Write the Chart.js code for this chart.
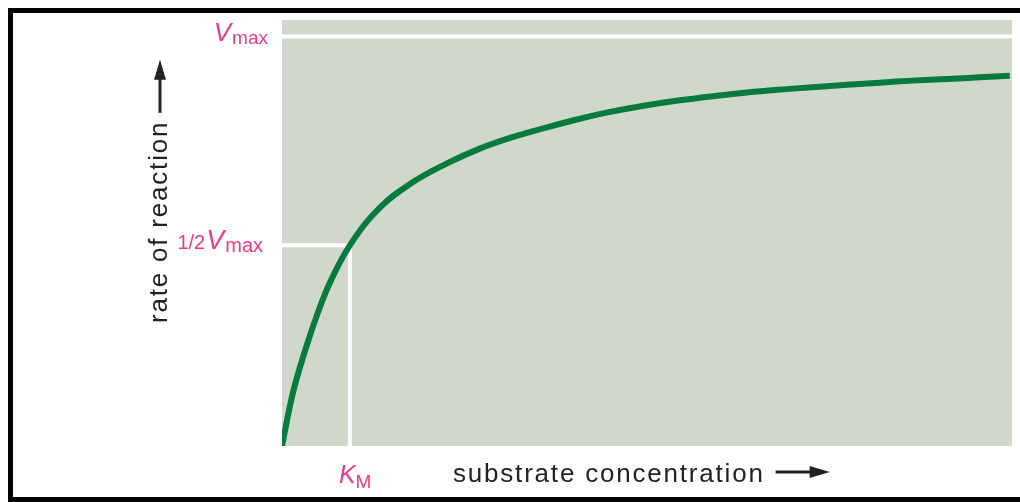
<!DOCTYPE html>
<html>
<head>
<meta charset="utf-8">
<script src="https://cdn.jsdelivr.net/npm/chart.js@4.4.1/dist/chart.umd.min.js"></script>
<style>
  html, body { margin: 0; padding: 0; background: #fff; }
  #wrap { width: 1020px; height: 502px; }
</style>
</head>
<body>
<div id="wrap"><canvas id="mmChart" width="1020" height="502"></canvas></div>
<script>
// substrate concentration (arbitrary units) and rate of reaction (% of Vmax)
const subConc = [0, 0.15, 0.32, 0.48, 0.66, 0.93, 1.34, 1.8, 2.26, 2.71, 3.16, 3.63, 4.08,
                 4.53, 5.0, 5.45, 5.9, 6.37, 6.82, 7.27, 7.74, 8.19, 8.64, 9.11, 9.56, 9.97];
const rate = [0, 13, 23.5, 32, 40, 49, 58.2, 64.5, 69.0, 72.6, 75.4, 77.8, 79.9,
              81.7, 83.2, 84.4, 85.4, 86.3, 87.0, 87.6, 88.2, 88.7, 89.2, 89.6, 90.0, 90.4];

const vMax = 100;
const halfVmax = 49;
const kM = 0.93;
const xRange = [0, 10];
const yRange = [0, 104];

const PINK = "#ec3a8c";
const INK = "#222222";
const PLOT_BG = "#cfd8cb";
const FONT = '"Liberation Sans", Arial, sans-serif';

const el = (id) => document.getElementById(id);

// draws runs of text (e.g. V + subscript) side by side, right or left aligned
const drawParts = (ctx, parts, x, y, align) => {
    let total = 0;
    parts.forEach((p) => {
        ctx.font = p.font;
        p.w = ctx.measureText(p.t).width + (p.gap || 0);
        total += p.w;
    });
    let cx = align === "right" ? x - total : x;
    parts.forEach((p) => {
        ctx.font = p.font;
        ctx.fillText(p.t, cx, y + (p.dy || 0));
        cx += p.w;
    });
};

const drawArrow = (ctx, x0, y0, len) => {
    // horizontal arrow pointing right in the current frame
    ctx.beginPath();
    ctx.moveTo(x0, y0);
    ctx.lineTo(x0 + len - 16, y0);
    ctx.lineWidth = 3;
    ctx.stroke();
    ctx.beginPath();
    ctx.moveTo(x0 + len, y0);
    ctx.lineTo(x0 + len - 20, y0 - 6);
    ctx.lineTo(x0 + len - 20, y0 + 6);
    ctx.closePath();
    ctx.fill();
};

const decor = {
    id: "decor",
    beforeDraw(chart) {
        const { ctx, chartArea: a } = chart;
        ctx.save();
        ctx.fillStyle = "#fff";
        ctx.fillRect(0, 0, chart.width, chart.height);
        ctx.fillStyle = PLOT_BG;
        ctx.fillRect(a.left, a.top, a.right - a.left, a.bottom - a.top);
        ctx.restore();
    },
    afterDraw(chart) {
        const { ctx, chartArea: a, scales } = chart;
        const yV = scales.y.getPixelForValue(vMax);
        const yH = scales.y.getPixelForValue(halfVmax);
        const xK = scales.x.getPixelForValue(kM);

        ctx.save();
        // frame
        ctx.strokeStyle = "#000";
        ctx.lineWidth = 5;
        ctx.beginPath();
        ctx.moveTo(1030, 10.5);
        ctx.lineTo(10.5, 10.5);
        ctx.lineTo(10.5, 499.5);
        ctx.lineTo(1030, 499.5);
        ctx.stroke();

        // pink labels
        ctx.fillStyle = PINK;
        ctx.textBaseline = "alphabetic";
        drawParts(ctx, [
            { t: "V", font: `italic 26px ${FONT}`, gap: 1 },
            { t: "max", font: `19px ${FONT}`, dy: 3 },
        ], a.left - 14, yV + 5, "right");
        drawParts(ctx, [
            { t: "1/2", font: `20px ${FONT}`, gap: 1 },
            { t: "V", font: `italic 27px ${FONT}`, gap: 1 },
            { t: "max", font: `20px ${FONT}`, dy: 3 },
        ], a.left - 19, yH + 4, "right");
        drawParts(ctx, [
            { t: "K", font: `italic 25px ${FONT}` },
            { t: "M", font: `19px ${FONT}`, dy: 5 },
        ], xK - 11, a.bottom + 37, "left");

        // axis titles with arrows
        ctx.fillStyle = INK;
        ctx.strokeStyle = INK;
        ctx.font = `26px ${FONT}`;
        ctx.letterSpacing = "1.8px";
        const xt = "substrate concentration";
        const xtX = a.left + 171;
        ctx.fillText(xt, xtX, a.bottom + 36);
        const xtW = ctx.measureText(xt).width;
        drawArrow(ctx, xtX + xtW + 11, a.bottom + 26, 54);

        const yt = "rate of reaction";
        ctx.save();
        ctx.translate(167, 323);
        ctx.rotate(-Math.PI / 2);
        ctx.fillText(yt, 0, 0);
        const ytW = ctx.measureText(yt).width;
        drawArrow(ctx, ytW + 8, -7, 53);
        ctx.restore();

        ctx.restore();
    },
};

const curvePts = subConc.map((x, i) => ({ x, y: rate[i] }));

new Chart(el("mmChart").getContext("2d"), {
    type: "line",
    data: {
        datasets: [
            {
                label: "rate",
                data: curvePts,
                borderColor: "#077a3e",
                borderWidth: 6,
                pointRadius: 0,
                tension: 0.4,
                order: 0,
            },
            {
                label: "Vmax",
                data: [{ x: xRange[0], y: vMax }, { x: xRange[1], y: vMax }],
                borderColor: "#ffffff",
                borderWidth: 4,
                pointRadius: 0,
                order: 1,
            },
            {
                label: "Km",
                data: [{ x: xRange[0], y: halfVmax }, { x: kM, y: halfVmax }, { x: kM, y: yRange[0] }],
                borderColor: "#ffffff",
                borderWidth: 4,
                pointRadius: 0,
                order: 1,
            },
        ],
    },
    options: {
        responsive: false,
        animation: false,
        layout: { padding: { left: 282, right: 8, top: 20, bottom: 56 } },
        scales: {
            x: { type: "linear", min: xRange[0], max: xRange[1], display: false },
            y: { type: "linear", min: yRange[0], max: yRange[1], display: false },
        },
        plugins: { legend: { display: false }, tooltip: { enabled: false } },
    },
    plugins: [decor],
});
</script>
</body>
</html>
